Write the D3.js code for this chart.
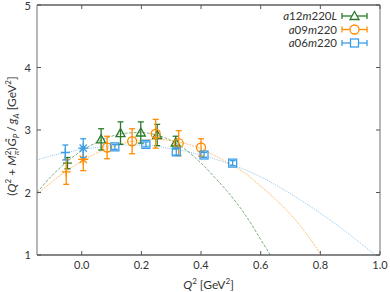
<!DOCTYPE html>
<html>
<head>
<meta charset="utf-8">
<script src="https://cdn.jsdelivr.net/npm/d3@7"></script>
<style>
  body { margin: 0; background: #fff; }
  text { font-family: Lato, "Open Sans", sans-serif; fill: #333; }
</style>
</head>
<body>
<svg id="chart" width="390" height="292"></svg>
<script>
const xTicks = [0.0, 0.2, 0.4, 0.6, 0.8, 1.0]
const yTicks = [1, 2, 3, 4, 5]

const ensembles = ['a12m220L', 'a09m220', 'a06m220']

// lattice points [Q2, value, error]
const greenPts = [[0.065, 2.85, 0.17], [0.13, 2.95, 0.18], [0.198, 2.96, 0.17], [0.253, 2.92, 0.17], [0.315, 2.8, 0.1]]
const orangePts = [[0.085, 2.72, 0.18], [0.169, 2.82, 0.2], [0.248, 2.94, 0.23], [0.325, 2.79, 0.2], [0.40, 2.72, 0.14]]
const bluePts = [[0.111, 2.73, 0.04], [0.215, 2.77, 0.04], [0.317, 2.65, 0.05], [0.41, 2.60, 0.04], [0.506, 2.47, 0.04]]

// pion pole points (+) and Q2 = 0 points (*)
const greenPole = [[-0.048, 2.47, 0.09]]
const orangePole = [[-0.052, 2.33, 0.2]]
const bluePole = [[-0.055, 2.64, 0.12]]
const orangeZero = [[0.005, 2.53, 0.18]]
const blueZero = [[0.005, 2.71, 0.15]]

// fit curves [Q2, value]
const greenFit = [[-0.15, 2.0], [-0.1, 2.27], [-0.05, 2.49], [0, 2.67], [0.05, 2.8], [0.1, 2.9], [0.15, 2.95], [0.2, 2.96], [0.25, 2.92], [0.3, 2.83], [0.35, 2.68], [0.4, 2.47], [0.45, 2.22], [0.5, 1.95], [0.55, 1.63], [0.6, 1.25], [0.632, 1.0]]
const orangeFit = [[-0.15, 1.97], [-0.1, 2.17], [-0.05, 2.35], [0, 2.5], [0.05, 2.63], [0.1, 2.73], [0.15, 2.8], [0.2, 2.84], [0.25, 2.85], [0.3, 2.83], [0.35, 2.78], [0.4, 2.7], [0.45, 2.58], [0.5, 2.45], [0.55, 2.3], [0.6, 2.1], [0.65, 1.89], [0.7, 1.65], [0.75, 1.36], [0.8, 1.02]]
const blueFit = [[-0.15, 2.52], [-0.1, 2.59], [-0.05, 2.64], [0, 2.69], [0.05, 2.72], [0.1, 2.75], [0.15, 2.76], [0.2, 2.76], [0.25, 2.74], [0.3, 2.7], [0.35, 2.66], [0.4, 2.6], [0.45, 2.53], [0.5, 2.45], [0.55, 2.36], [0.6, 2.25], [0.65, 2.12], [0.7, 1.98], [0.75, 1.83], [0.8, 1.67], [0.85, 1.5], [0.9, 1.32], [0.95, 1.13], [0.985, 1.0]]

const green = '#2b7a2b', orange = '#ff8c00', blue = '#3a9ee8'

const svg = d3.select('#chart')
const m = {left: 37, right: 10, top: 5, bottom: 37}
const W = 390, H = 292

const x = d3.scaleLinear().domain([-0.15, 1.0]).range([m.left, W - m.right])
const y = d3.scaleLinear().domain([1, 5]).range([H - m.bottom, m.top])

svg.append('defs').append('clipPath').attr('id', 'plot')
    .append('rect')
    .attr('x', m.left).attr('y', m.top)
    .attr('width', W - m.left - m.right).attr('height', H - m.top - m.bottom)

// fit curves
const line = d3.line().x(d => x(d[0])).y(d => y(d[1])).curve(d3.curveMonotoneX)
const fits = [
    {data: greenFit, color: green, dash: '3,1.5', op: 0.6},
    {data: orangeFit, color: orange, dash: '2,1', op: 0.55},
    {data: blueFit, color: blue, dash: '1,1.2', op: 0.6}
]
const curves = svg.append('g').attr('clip-path', 'url(#plot)')
fits.forEach(f => {
    curves.append('path')
        .attr('d', line(f.data))
        .attr('fill', 'none')
        .attr('stroke', f.color)
        .attr('stroke-opacity', f.op)
        .attr('stroke-width', 1)
        .attr('stroke-dasharray', f.dash)
})

function errorBars(g, pts, color) {
    pts.forEach(p => {
        let cx = x(p[0]), y0 = y(p[1] - p[2]), y1 = y(p[1] + p[2])
        g.append('line').attr('x1', cx).attr('x2', cx).attr('y1', y0).attr('y2', y1)
        g.append('line').attr('x1', cx - 3).attr('x2', cx + 3).attr('y1', y0).attr('y2', y0)
        g.append('line').attr('x1', cx - 3).attr('x2', cx + 3).attr('y1', y1).attr('y2', y1)
    })
    g.attr('stroke', color).attr('stroke-width', 1.3).attr('fill', 'none')
}

function marker(g, kind, cx, cy) {
    if (kind === 'tri') {
        g.append('path').attr('d', `M${cx - 4.5},${cy + 3.5}L${cx + 4.5},${cy + 3.5}L${cx},${cy - 4.5}Z`)
    } else if (kind === 'circle') {
        g.append('circle').attr('cx', cx).attr('cy', cy).attr('r', 4.5)
    } else if (kind === 'square') {
        g.append('rect').attr('x', cx - 4).attr('y', cy - 4).attr('width', 8).attr('height', 8)
    } else if (kind === 'plus') {
        g.append('path').attr('d', `M${cx - 4.5},${cy}H${cx + 4.5}M${cx},${cy - 4.5}V${cy + 4.5}`)
    } else if (kind === 'star') {
        g.append('path').attr('d', `M${cx - 5},${cy}H${cx + 5}M${cx},${cy - 5}V${cy + 5}M${cx - 3.6},${cy - 3.6}L${cx + 3.6},${cy + 3.6}M${cx - 3.6},${cy + 3.6}L${cx + 3.6},${cy - 3.6}`)
    }
}

const sets = [
    {pts: greenPts, color: green, kind: 'tri'},
    {pts: orangePts, color: orange, kind: 'circle'},
    {pts: bluePts, color: blue, kind: 'square'},
    {pts: greenPole, color: green, kind: 'plus'},
    {pts: orangePole, color: orange, kind: 'plus'},
    {pts: bluePole, color: blue, kind: 'plus'},
    {pts: orangeZero, color: orange, kind: 'star'},
    {pts: blueZero, color: blue, kind: 'star'}
]
sets.forEach(s => {
    let g = svg.append('g')
    errorBars(g.append('g'), s.pts, s.color)
    let mg = g.append('g').attr('stroke', s.color).attr('stroke-width', 1.3).attr('fill', 'none')
    s.pts.forEach(p => marker(mg, s.kind, x(p[0]), y(p[1])))
})

// frame
const x0 = m.left, x1 = W - m.right, y0 = H - m.bottom, y1 = m.top
svg.append('line').attr('x1', x0).attr('x2', x1).attr('y1', y1).attr('y2', y1).attr('stroke', '#111').attr('stroke-width', 1.2)
svg.append('line').attr('x1', x0).attr('x2', x1).attr('y1', y0).attr('y2', y0).attr('stroke', '#111').attr('stroke-width', 1.2)
svg.append('line').attr('x1', x0).attr('x2', x0).attr('y1', y1).attr('y2', y0).attr('stroke', '#888').attr('stroke-width', 1.2)
svg.append('line').attr('x1', x1).attr('x2', x1).attr('y1', y1).attr('y2', y0).attr('stroke', '#888').attr('stroke-width', 1.2)

const ticks = svg.append('g').attr('stroke', '#555').attr('stroke-width', 1)
xTicks.forEach(t => {
    ticks.append('line').attr('x1', x(t)).attr('x2', x(t)).attr('y1', y0).attr('y2', y0 - 4)
    ticks.append('line').attr('x1', x(t)).attr('x2', x(t)).attr('y1', y1).attr('y2', y1 + 4)
})
yTicks.forEach(t => {
    ticks.append('line').attr('x1', x0).attr('x2', x0 + 4).attr('y1', y(t)).attr('y2', y(t))
    ticks.append('line').attr('x1', x1).attr('x2', x1 - 4).attr('y1', y(t)).attr('y2', y(t))
})

svg.append('g').selectAll('text').data(xTicks).join('text')
    .attr('x', d => x(d)).attr('y', y0 + 14)
    .attr('text-anchor', 'middle').attr('font-size', 11)
    .text(d => d3.format('.1f')(d))
svg.append('g').selectAll('text').data(yTicks).join('text')
    .attr('x', x0 - 6).attr('y', d => Math.max(y(d) + 4, 10))
    .attr('text-anchor', 'end').attr('font-size', 11)
    .text(d => d)

// x label
const xl = svg.append('text').attr('x', (x0 + x1) / 2).attr('y', 289)
    .attr('text-anchor', 'middle').attr('font-size', 12)
xl.append('tspan').attr('font-style', 'italic').text('Q')
xl.append('tspan').attr('font-size', 8).attr('dy', -5).text('2')
xl.append('tspan').attr('dy', 5).text(' [GeV')
xl.append('tspan').attr('font-size', 8).attr('dy', -5).text('2')
xl.append('tspan').attr('dy', 5).text(']')

// y label
const yl = svg.append('text')
    .attr('transform', `translate(16,${(y0 + y1) / 2 + 6}) rotate(-90)`)
    .attr('text-anchor', 'middle').attr('font-size', 12)
yl.append('tspan').text('(')
yl.append('tspan').attr('font-style', 'italic').text('Q')
yl.append('tspan').attr('font-size', 8).attr('dy', -5).text('2')
yl.append('tspan').attr('dy', 5).text(' + ')
yl.append('tspan').attr('font-style', 'italic').text('M')
yl.append('tspan').attr('font-size', 8).attr('font-style', 'italic').attr('dy', 3).text('π')
yl.append('tspan').attr('font-size', 8).attr('dx', -4.5).attr('dy', -8).text('2')
yl.append('tspan').attr('dy', 5).text(')')
yl.append('tspan').attr('font-style', 'italic').attr('dx', 1).text('G\u0303')
yl.append('tspan').attr('font-size', 8).attr('font-style', 'italic').attr('dy', 3).text('P')
yl.append('tspan').attr('dy', -3).attr('dx', 2).text('/')
yl.append('tspan').attr('font-style', 'italic').attr('dx', 2).text('g')
yl.append('tspan').attr('font-size', 8).attr('font-style', 'italic').attr('dy', 3).text('A')
yl.append('tspan').attr('dy', -3).text(' [GeV')
yl.append('tspan').attr('font-size', 8).attr('dy', -5).text('2')
yl.append('tspan').attr('dy', 5).text(']')

// legend
const legend = [
    {parts: [['a', 1], ['12', 0], ['m', 1], ['220', 0], ['L', 1]], color: green, kind: 'tri'},
    {parts: [['a', 1], ['09', 0], ['m', 1], ['220', 0]], color: orange, kind: 'circle'},
    {parts: [['a', 1], ['06', 0], ['m', 1], ['220', 0]], color: blue, kind: 'square'}
]
legend.forEach((l, i) => {
    let ly = 16 + i * 13.5
    let t = svg.append('text').attr('x', 337).attr('y', ly + 4)
        .attr('text-anchor', 'end').attr('font-size', 11.5)
    l.parts.forEach(p => t.append('tspan').attr('font-style', p[1] ? 'italic' : 'normal').text(p[0]))
    let g = svg.append('g').attr('stroke', l.color).attr('stroke-width', 1.3).attr('fill', 'none')
    g.append('line').attr('x1', 342).attr('x2', 367).attr('y1', ly).attr('y2', ly)
    g.append('line').attr('x1', 342).attr('x2', 342).attr('y1', ly - 3).attr('y2', ly + 3)
    g.append('line').attr('x1', 367).attr('x2', 367).attr('y1', ly - 3).attr('y2', ly + 3)
    let mg = g.append('g').attr('fill', '#fff')
    marker(mg, l.kind, 354.5, ly)
})
</script>
</body>
</html>
